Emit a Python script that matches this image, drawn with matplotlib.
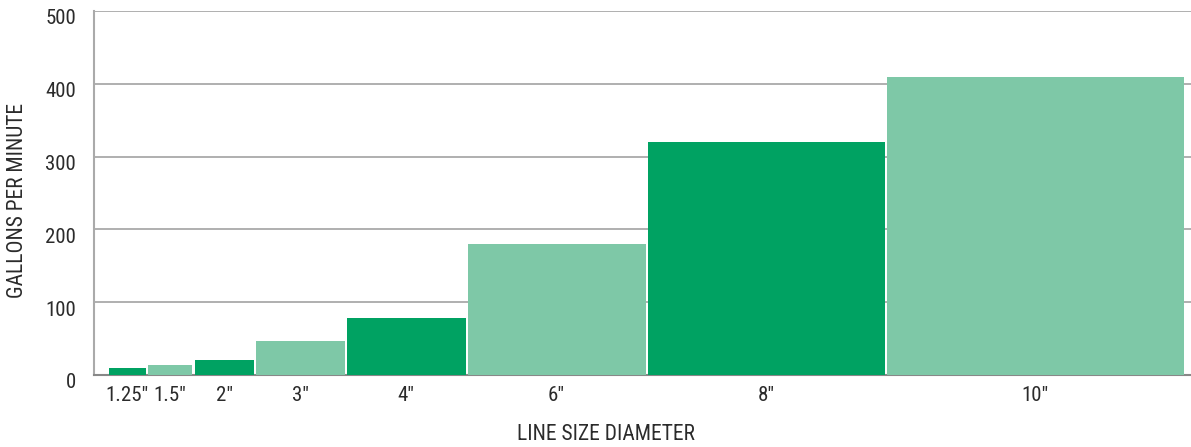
import numpy as np
import matplotlib.pyplot as plt
from matplotlib import font_manager
from matplotlib.transforms import ScaledTranslation

# ---- data ----
sizes  = ["1.25\u2033", "1.5\u2033", "2\u2033", "3\u2033", "4\u2033", "6\u2033", "8\u2033", "10\u2033"]
diam   = [1.25, 1.5, 2, 3, 4, 6, 8, 10]
gpm    = [10, 14, 20, 47, 78, 180, 320, 410]
yticks = [0, 100, 200, 300, 400, 500]

DARK, LIGHT = "#00a262", "#7ec8a7"
TXT = "#2b2b2b"
colors = [DARK if i % 2 == 0 else LIGHT for i in range(len(diam))]

names = {f.name for f in font_manager.fontManager.ttflist}
fam = [f for f in ["Roboto Condensed", "Archivo Narrow", "Barlow Semi Condensed", "DejaVu Sans"] if f in names]
plt.rcParams["font.family"] = fam

GAP = 0.07
lefts = np.concatenate([[0.5], 0.5 + np.cumsum(np.array(diam[:-1]) + GAP)])
centers = lefts + np.array(diam) / 2

fig = plt.figure(figsize=(11.91, 4.47), dpi=100)
ax = fig.add_axes([94 / 1191, 1 - 375 / 447, 1 - 94 / 1191, 364 / 447])

ax.bar(lefts, gpm, width=diam, align="edge", color=colors, linewidth=0, zorder=3)
ax.set_xlim(0, lefts[-1] + diam[-1] + 0.25)
ax.set_ylim(0, 500)

ax.set_yticks(yticks)
ax.yaxis.grid(True, color="#9a9a9a", lw=1.1, zorder=0)
ax.set_xticks(centers, sizes)
ax.tick_params(length=0, labelsize=15, colors=TXT)
ax.tick_params(axis="y", pad=13)
ax.tick_params(axis="x", pad=8)
for lab in ax.get_yticklabels():
    lab.set_transform(lab.get_transform() + ScaledTranslation(0, -6 / 100, fig.dpi_scale_trans))

for s in ["top", "right"]:
    ax.spines[s].set_visible(False)
ax.spines["left"].set_color("#aaaaaa")
ax.spines["left"].set_linewidth(1.5)
ax.spines["bottom"].set_color("#888888")
ax.spines["bottom"].set_linewidth(1.5)

fig.text(17.5 / 1191, 1 - 200 / 447, "GALLONS PER MINUTE", rotation=90, ha="center", va="center",
         fontsize=15.5, color=TXT)
fig.text(606 / 1191, 1 - 435 / 447, "LINE SIZE DIAMETER", ha="center", va="center",
         fontsize=15.5, color=TXT)

fig.savefig("out.png", dpi=100)
